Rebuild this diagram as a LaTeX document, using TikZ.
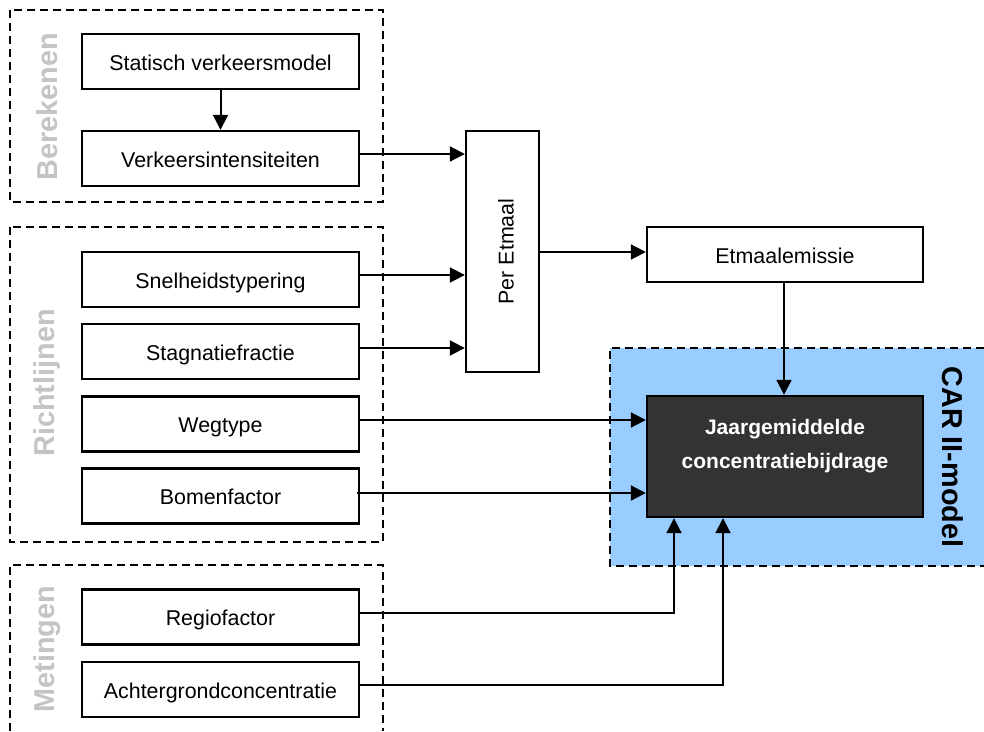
\documentclass[tikz,border=0pt]{standalone}
\usepackage{fontspec}
\setmainfont{Liberation Sans}
\usetikzlibrary{arrows.meta,calc}
\definecolor{carblue}{HTML}{99CCFF}
\definecolor{dark}{HTML}{333333}
\definecolor{grouplabel}{HTML}{C4C4C4}
\tikzset{
  box/.style={draw, line width=2.4pt, fill=white, minimum width=277pt, minimum height=55pt,
    inner sep=0pt, font=\fontsize{21.4}{25}\selectfont, text height=17pt, text depth=0pt},
  grp/.style={draw, line width=2.2pt, dash pattern=on 8pt off 5pt},
  grplabel/.style={text=grouplabel, font=\fontsize{28.8}{32}\selectfont\bfseries, rotate=90},
  arr/.style={line width=2pt, -{Triangle[length=15pt,width=15pt]}},
}
\begin{document}
\begin{tikzpicture}[x=1pt,y=-1pt]
\useasboundingbox (0,0) rectangle (984,731);
% groups
\draw[grp] (10,10) rectangle (383,202);
\draw[grp] (10,227) rectangle (383,542);
\draw[grp] (10,731) -- (10,565) -- (383,565) -- (383,731);
\fill[carblue] (610,348) rectangle (984,566);
\draw[grp] (984,348) -- (610,348) -- (610,566) -- (984,566);
\node[grplabel] (lb) at (47,107) {Berekenen};
\node[grplabel] (lr) at (47,383) {Richtlijnen};
\node[grplabel] (lm) at (47,649) {Metingen};
\node[font=\fontsize{28.8}{32}\selectfont\bfseries, rotate=-90] (lcar) at (953,457) {CAR II-model};
% boxes
\node[box] (stat) at (220.5,61.5) {Statisch verkeersmodel};
\node[box] (verk) at (220.5,158.5) {Verkeersintensiteiten};
\node[box] (snel) at (220.5,279.5) {Snelheidstypering};
\node[box] (stag) at (220.5,351.5) {Stagnatiefractie};
\node[box] (weg) at (220.5,424) {Wegtype};
\node[box] (bom) at (220.5,496) {Bomenfactor};
\node[box] (regio) at (220.5,617) {Regiofactor};
\node[box] (achter) at (220.5,689.5) {Achtergrondconcentratie};
\node[box, minimum width=241pt, minimum height=73pt, rotate=90, text height=22pt] (per) at (502.5,251.5) {Per Etmaal};
\node[box, minimum width=276pt] (etm) at (785,254.5) {Etmaalemissie};
\node[draw, line width=2.4pt, fill=dark, minimum width=276pt, minimum height=121pt,
  label={[text=white, align=center, font=\fontsize{21}{34}\selectfont\bfseries, yshift=10pt]center:Jaargemiddelde\\concentratiebijdrage}] (jaar) at (785,456.5) {};
% connectors
\draw[arr] (stat.south) -- (verk.north);
\draw[arr] ([yshift=4.5pt]verk.east) -- ([yshift=4.5pt]verk.east -| per.north);
\draw[arr] ([yshift=4.5pt]snel.east) -- ([yshift=4.5pt]snel.east -| per.north);
\draw[arr] ([yshift=3.5pt]stag.east) -- ([yshift=3.5pt]stag.east -| per.north);
\draw[arr] ($(per.south |- etm.west)+(0,-2.5)$) -- ([yshift=2.5pt]etm.west);
\draw[arr] ([xshift=-1pt]etm.south) -- ([xshift=-1pt]etm.south |- jaar.north);
\draw[arr] ([yshift=4pt]weg.east) -- ([yshift=4pt]weg.east -| jaar.west);
\draw[arr] ([xshift=-3pt,yshift=3pt]bom.east) -- ([yshift=3pt]bom.east -| jaar.west);
\draw[arr] ([yshift=4pt]regio.east) -| ([xshift=-111pt]jaar.south);
\draw[arr] ([yshift=4.5pt]achter.east) -| ([xshift=-62pt]jaar.south);
\end{tikzpicture}
\end{document}
